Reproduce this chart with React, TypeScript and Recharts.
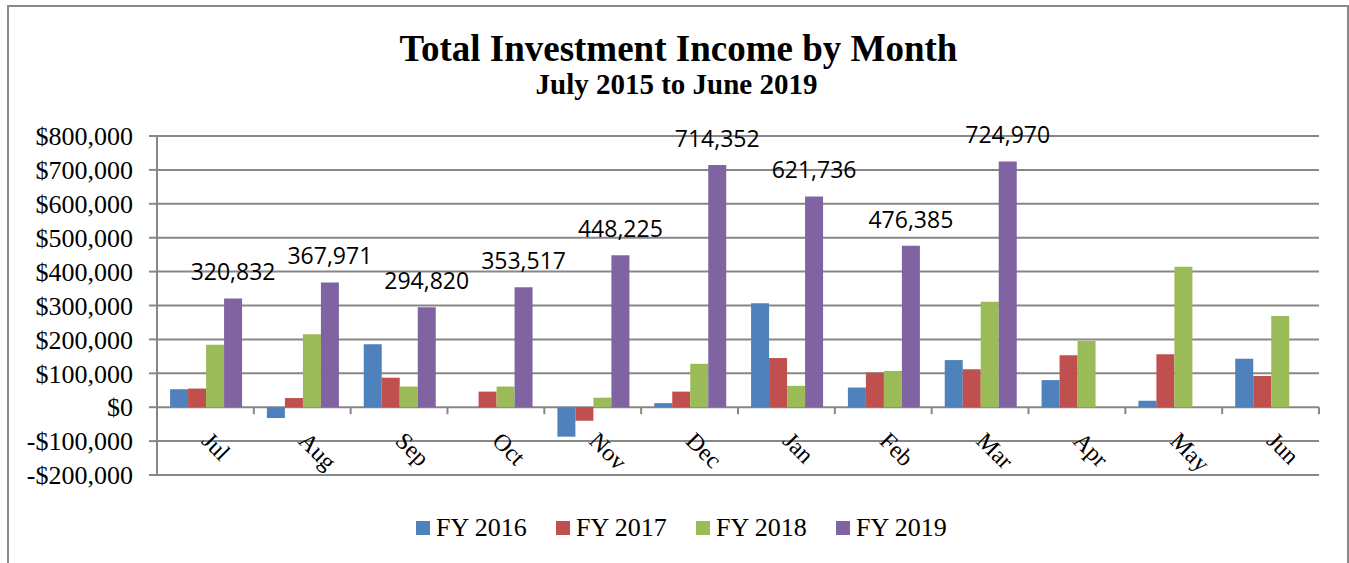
import React from 'react';
import { BarChart, Bar, XAxis, YAxis, CartesianGrid, Legend, LabelList } from 'recharts';

const months = ['Jul', 'Aug', 'Sep', 'Oct', 'Nov', 'Dec', 'Jan', 'Feb', 'Mar', 'Apr', 'May', 'Jun'];
const fy2016 = [53000, -32000, 186000, 0, -87000, 12000, 307000, 58000, 139000, 80000, 19000, 143000];
const fy2017 = [55000, 27000, 87000, 46000, -40000, 46000, 145000, 102000, 112000, 153000, 156000, 92000];
const fy2018 = [184000, 215000, 61000, 61000, 28000, 128000, 63000, 107000, 311000, 195000, 414000, 269000];
const fy2019 = [320832, 367971, 294820, 353517, 448225, 714352, 621736, 476385, 724970, null, null, null];
const yTicks = [-200000, -100000, 0, 100000, 200000, 300000, 400000, 500000, 600000, 700000, 800000];

const series = [
    { key: 'fy2016', name: 'FY 2016', color: '#4F81BD' },
    { key: 'fy2017', name: 'FY 2017', color: '#C0504D' },
    { key: 'fy2018', name: 'FY 2018', color: '#9BBB59' },
    { key: 'fy2019', name: 'FY 2019', color: '#8064A2' },
];

const data = months.map((m, i) => ({
    month: m,
    fy2016: fy2016[i],
    fy2017: fy2017[i],
    fy2018: fy2018[i],
    fy2019: fy2019[i],
}));

const W = 1349;
const H = 563;
const PLOT_LEFT = 157;
const PLOT_RIGHT = 1319;
const PLOT_TOP = 136;
const PLOT_BOTTOM = 475;
const Y_MIN = -200000;
const Y_MAX = 800000;
const GRID = '#878787';
const SERIF = '"Liberation Serif", "Times New Roman", serif';

const fmtMoney = (v: number) => (v < 0 ? `-$${Math.abs(v).toLocaleString('en-US')}` : `$${v.toLocaleString('en-US')}`);

// category axis sits on the zero line, with tick marks on the category boundaries
const MonthTick = (props: any) => {
    const { x, payload, index } = props;
    const zeroY = PLOT_BOTTOM - ((0 - Y_MIN) / (Y_MAX - Y_MIN)) * (PLOT_BOTTOM - PLOT_TOP);
    const band = (PLOT_RIGHT - PLOT_LEFT) / months.length;
    const tx = x - 5;
    const ty = zeroY + 35;
    return (
        <g>
            {index > 0 && (
                <line x1={x - band / 2} x2={x - band / 2} y1={zeroY} y2={zeroY + 7} stroke={GRID} strokeWidth={2} />
            )}
            {index === months.length - 1 && (
                <line x1={x + band / 2} x2={x + band / 2} y1={zeroY} y2={zeroY + 7} stroke={GRID} strokeWidth={2} />
            )}
            <text
                x={tx}
                y={ty}
                transform={`rotate(45 ${tx} ${ty})`}
                textAnchor="start"
                fontFamily={SERIF}
                fontSize={24}
                fill="#000"
            >
                {payload.value}
            </text>
        </g>
    );
};

const renderLegend = () => (
    <div style={{ display: 'flex', alignItems: 'center', fontFamily: SERIF, fontSize: 26, color: '#000' }}>
        {series.map(s => (
            <div key={s.key} style={{ display: 'flex', alignItems: 'center', width: 140 }}>
                <span style={{ width: 14, height: 14, background: s.color, marginRight: 6, display: 'inline-block' }} />
                <span style={{ whiteSpace: 'nowrap' }}>{s.name}</span>
            </div>
        ))}
    </div>
);

export default function App() {
    return (
        <div style={{ position: 'absolute', left: 0, top: 0, width: W, height: H, overflow: 'hidden', background: '#fff' }}>
            <div
                style={{
                    position: 'absolute', left: 7, top: 5, width: 1338, height: 620,
                    border: '2px solid #898989',
                }}
            />
            <div style={{ position: 'absolute', left: 0, top: 27, width: 1357, textAlign: 'center', fontFamily: SERIF, fontWeight: 700, fontSize: 37, lineHeight: 'normal', whiteSpace: 'nowrap' }}>
                Total Investment Income by Month
            </div>
            <div style={{ position: 'absolute', left: 0, top: 68, width: 1353, textAlign: 'center', fontFamily: SERIF, fontWeight: 700, fontSize: 29, lineHeight: 'normal', whiteSpace: 'nowrap' }}>
                July 2015 to June 2019
            </div>
            <div style={{ position: 'absolute', left: 0, top: 0 }}>
                <BarChart
                    width={W}
                    height={H}
                    data={data}
                    margin={{ top: PLOT_TOP, right: W - PLOT_RIGHT, left: 0, bottom: H - PLOT_BOTTOM - 30 }}
                    barCategoryGap="13.5%"
                    barGap={0}
                >
                    <CartesianGrid vertical={false} stroke={GRID} strokeWidth={2} />
                    <XAxis
                        dataKey="month"
                        height={30}
                        axisLine={false}
                        tickLine={false}
                        tickSize={0}
                        tickMargin={0}
                        interval={0}
                        tick={<MonthTick />}
                    />
                    <YAxis
                        width={PLOT_LEFT}
                        domain={[Y_MIN, Y_MAX]}
                        ticks={yTicks}
                        interval={0}
                        tickFormatter={fmtMoney}
                        axisLine={{ stroke: GRID, strokeWidth: 2 }}
                        tickLine={{ stroke: GRID, strokeWidth: 2 }}
                        tickSize={8}
                        tickMargin={16}
                        tick={{ fill: '#000', fontSize: 26, fontFamily: SERIF }}
                    />
                    <Legend
                        content={renderLegend}
                        layout="horizontal"
                        verticalAlign="middle"
                        align="center"
                        wrapperStyle={{ left: 416, top: 513, width: 600, height: 30 }}
                    />
                    {series.map(s => (
                        <Bar key={s.key} dataKey={s.key} name={s.name} fill={s.color} isAnimationActive={false}>
                            {s.key === 'fy2019' && (
                                <LabelList
                                    dataKey="fy2019"
                                    position="top"
                                    offset={18}
                                    formatter={(v: any) => (v == null ? '' : Number(v).toLocaleString('en-US'))}
                                    style={{ fontFamily: '"Open Sans", sans-serif', fontSize: 23, fill: '#000' }}
                                />
                            )}
                        </Bar>
                    ))}
                </BarChart>
            </div>
        </div>
    );
}
